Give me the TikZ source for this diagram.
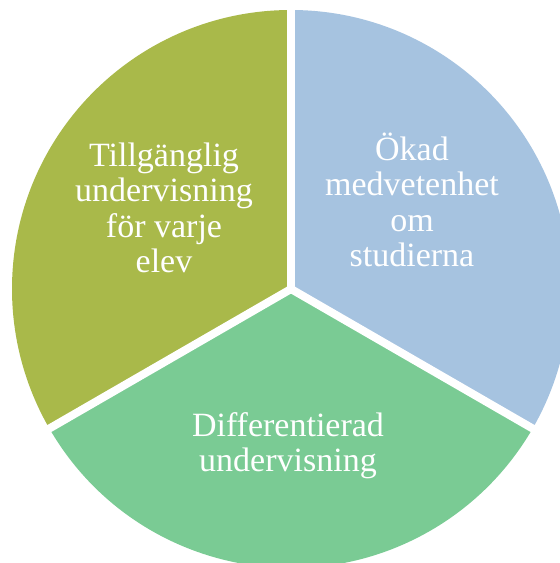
\documentclass[tikz,border=0pt]{standalone}
\usepackage{fontspec}
\setmainfont{Liberation Serif}
\definecolor{olive}{RGB}{169,185,74}
\definecolor{skyblue}{RGB}{166,195,224}
\definecolor{mint}{RGB}{122,203,148}
\begin{document}
\begin{tikzpicture}[x=1pt,y=1pt,
  lbl/.style={text=white,align=center,font=\fontsize{34}{35.5}\selectfont,inner sep=0pt,anchor=base},
  sep/.style={draw=white,line width=8pt}]
\useasboundingbox (0,0) rectangle (560,563);
\begin{scope}
\clip (0,0) rectangle (560,563);
\coordinate (c) at (291,274);
\fill[olive] (c) -- ++(90:279) arc[start angle=90,end angle=210,radius=279] -- cycle;
\fill[skyblue] (c) -- ++(90:279) arc[start angle=90,end angle=-30,radius=279] -- cycle;
\fill[mint] (c) -- ++(210:279) arc[start angle=210,end angle=330,radius=279] -- cycle;
\draw[sep] (c) -- ++(90:300);
\draw[sep] (c) -- ++(210:300);
\draw[sep] (c) -- ++(330:300);
\end{scope}
\node[lbl] (t1) at (164,290) {Tillgänglig\\undervisning\\för varje\\elev};
\node[lbl] (t2) at (412,296) {Ökad\\medvetenhet\\om\\studierna};
\node[lbl] (t3) at (288,91) {Differentierad\\undervisning};
\end{tikzpicture}
\end{document}
